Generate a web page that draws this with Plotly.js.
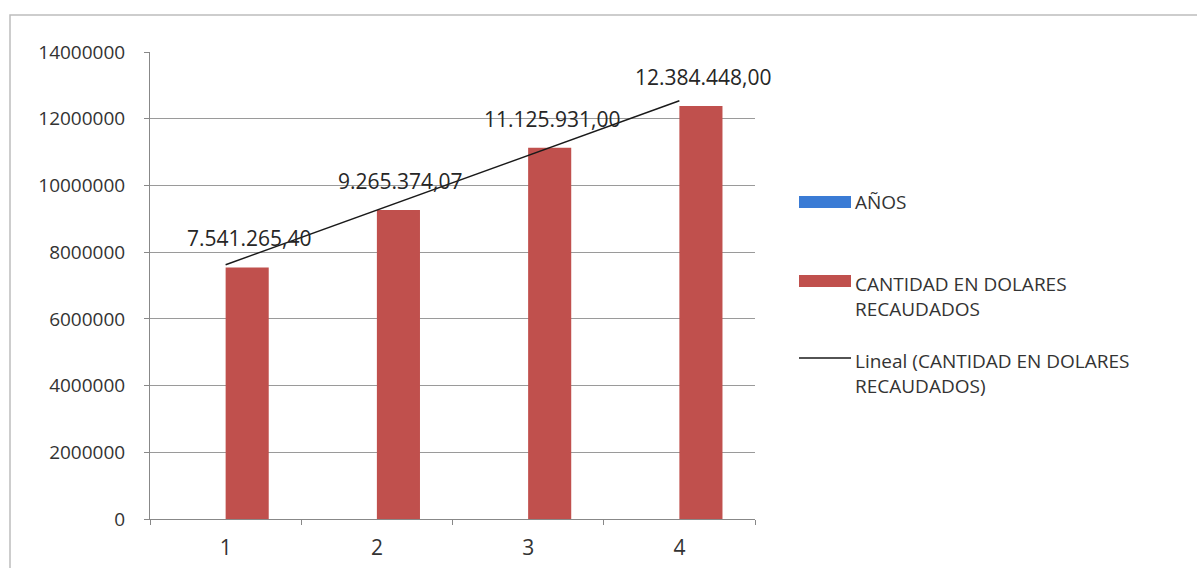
<!DOCTYPE html>
<html>
<head>
<meta charset="utf-8">
<script src="https://cdn.plot.ly/plotly-3.0.1.min.js"></script>
<style>html,body{margin:0;padding:0;background:#fff;}#chart{width:1197px;height:568px;}</style>
</head>
<body>
<div id="chart"></div>
<script>
// ---- data ----
var categories = ["1", "2", "3", "4"];
var anos = [1, 2, 3, 4];
var recaudado = [7541265.40, 9265374.07, 11125931.00, 12384448.00];
var yTicks = [0, 2000000, 4000000, 6000000, 8000000, 10000000, 12000000, 14000000];
var seriesNames = ["AÑOS", "CANTIDAD EN DOLARES<br>RECAUDADOS", "Lineal (CANTIDAD EN DOLARES<br>RECAUDADOS)"];

// linear trendline (least squares over category index)
var n = recaudado.length, sx = 0, sy = 0, sxy = 0, sxx = 0;
for (var i = 0; i < n; i++) { var xi = i + 1; sx += xi; sy += recaudado[i]; sxy += xi * recaudado[i]; sxx += xi * xi; }
var slope = (n * sxy - sx * sy) / (n * sxx - sx * sx);
var intercept = (sy - slope * sx) / n;
var trend = categories.map(function (c, i) { return intercept + slope * (i + 1); });

function fmtES(v) {
  var p = v.toFixed(2).split(".");
  return p[0].replace(/\B(?=(\d{3})+(?!\d))/g, ".") + "," + p[1];
}

var FONT = "Open Sans, Liberation Sans, sans-serif";
var BLUE = "#3a7bd5", RED = "#c0504d";

var traces = [
  { type: "bar", x: categories, y: anos, name: "AÑOS", marker: { color: BLUE, line: { width: 0 } }, showlegend: false, hoverinfo: "skip" },
  { type: "bar", x: categories, y: recaudado, name: "CANTIDAD EN DOLARES RECAUDADOS", marker: { color: RED, line: { width: 0 } }, showlegend: false },
  { type: "scatter", mode: "lines", x: categories, y: trend, name: "Lineal (CANTIDAD EN DOLARES RECAUDADOS)", line: { color: "#1a1a1a", width: 1.5 }, showlegend: false }
];

function px2x(px) { return (px - 150) / 605; }
function px2y(py) { return (519 - py) / 467; }

// data labels: x given as category index (0-based) on the category axis
var annotations = recaudado.map(function (v, i) {
  return { x: i, y: v, xref: "x", yref: "y", text: fmtES(v), showarrow: false,
    xanchor: "center", yanchor: "bottom", xshift: 24, yshift: 13,
    font: { family: FONT, size: 21, color: "#262626" } };
});

// legend (custom)
var legendSwatches = [
  { type: "rect", color: BLUE, y: 202 },
  { type: "rect", color: RED, y: 281 },
  { type: "line", color: "#1a1a1a", y: 358 }
];
var legendTextY = [202, 296, 373];
var shapes = [];
legendSwatches.forEach(function (s) {
  if (s.type === "rect") {
    shapes.push({ type: "rect", xref: "paper", yref: "paper", x0: px2x(799), x1: px2x(851), y0: px2y(s.y + 6), y1: px2y(s.y - 6), fillcolor: s.color, line: { width: 0 } });
  } else {
    shapes.push({ type: "line", xref: "paper", yref: "paper", x0: px2x(799), x1: px2x(851), y0: px2y(s.y), y1: px2y(s.y), line: { color: s.color, width: 1.5 } });
  }
});
seriesNames.forEach(function (t, i) {
  annotations.push({ xref: "paper", yref: "paper", x: px2x(853), y: px2y(legendTextY[i]), text: t, showarrow: false,
    xanchor: "left", yanchor: "middle", align: "left", font: { family: FONT, size: 19, color: "#333" } });
});
// outer chart border
shapes.push({ type: "rect", xref: "paper", yref: "paper", x0: px2x(10), x1: px2x(1260), y0: px2y(640), y1: px2y(15), line: { color: "#bdbdbd", width: 1.5 }, fillcolor: "rgba(0,0,0,0)", layer: "below" });

var layout = {
  width: 1197, height: 568,
  margin: { l: 150, r: 442, t: 52, b: 49 },
  paper_bgcolor: "#fff", plot_bgcolor: "#fff",
  barmode: "group", bargap: 0.43, bargroupgap: 0,
  showlegend: false,
  font: { family: FONT, color: "#333" },
  xaxis: {
    type: "category", range: [-0.5, categories.length - 0.5], autorange: false,
    showgrid: false, showline: true, linecolor: "#888", linewidth: 1,
    ticks: "outside", tickson: "boundaries", ticklen: 5, tickcolor: "#888",
    tickfont: { family: FONT, size: 21, color: "#333" }, ticklabelstandoff: 10, zeroline: false
  },
  yaxis: {
    range: [0, 14000000], autorange: false, tickvals: yTicks, ticktext: yTicks.map(String),
    showgrid: true, gridcolor: "#9a9a9a", gridwidth: 1, showline: true, linecolor: "#888", linewidth: 1,
    ticks: "outside", ticklen: 5, tickcolor: "#888", zeroline: false,
    tickfont: { family: FONT, size: 19, color: "#333" }, ticklabelstandoff: 15
  },
  shapes: shapes,
  annotations: annotations
};

Plotly.newPlot("chart", traces, layout, { staticPlot: true, displayModeBar: false });
</script>
</body>
</html>
